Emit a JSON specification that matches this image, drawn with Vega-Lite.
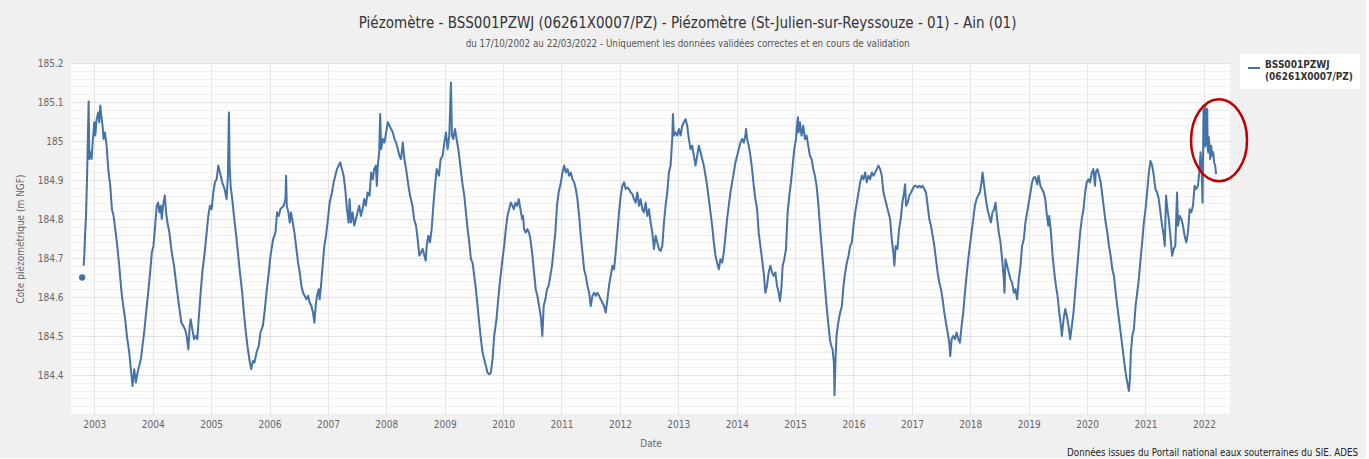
{
  "$schema": "https://vega.github.io/schema/vega-lite/v6.json",
  "background": "#f0f0f0",
  "padding": {"left": 15, "top": 16, "right": 6, "bottom": 0},
  "title": {
    "text": "Piézomètre - BSS001PZWJ (06261X0007/PZ) - Piézomètre (St-Julien-sur-Reyssouze - 01) - Ain (01)",
    "subtitle": "du 17/10/2002 au 22/03/2022 - Uniquement les données validées correctes et en cours de validation",
    "anchor": "middle",
    "frame": "bounds",
    "font": "DejaVu Sans Condensed",
    "fontSize": 15,
    "fontWeight": "normal",
    "color": "#333333",
    "subtitleFont": "DejaVu Sans Condensed",
    "subtitleFontSize": 9.75,
    "subtitleColor": "#555555",
    "subtitlePadding": 8,
    "offset": 5
  },
  "config": {
    "view": {"fill": "#fdfdfd", "stroke": null},
    "axis": {
      "labelFont": "DejaVu Sans Condensed",
      "labelFontSize": 10,
      "labelColor": "#666666",
      "titleFont": "DejaVu Sans Condensed",
      "titleFontSize": 10,
      "titleFontWeight": "normal",
      "titleColor": "#666666",
      "ticks": false,
      "domain": false,
      "labelFlush": false,
      "labelOverlap": false
    }
  },
  "vconcat": [
    {
      "width": 1159,
      "height": 351,
      "title": {
        "text": "Données issues du Portail national eaux souterraines du SIE. ADES",
        "orient": "bottom",
        "anchor": "end",
        "frame": "group",
        "dx": 128,
        "font": "DejaVu Sans Condensed",
        "fontSize": 9.7,
        "fontWeight": "normal",
        "color": "#222222",
        "offset": 0
      },
      "resolve": {"axis": {"y": "independent"}},
      "layer": [
        {
          "data": {"values": [
{"annee":2002.818,"niveau":184.680},{"annee":2002.829,"niveau":184.706},{"annee":2002.841,"niveau":184.757},{"annee":2002.858,"niveau":184.808},{"annee":2002.875,"niveau":184.902},{"annee":2002.886,"niveau":184.979},{"annee":2002.903,"niveau":185.101},{"annee":2002.915,"niveau":184.954},{"annee":2002.932,"niveau":184.971},{"annee":2002.954,"niveau":184.954},{"annee":2002.972,"niveau":184.996},
{"annee":2003.000,"niveau":185.048},{"annee":2003.017,"niveau":185.014},{"annee":2003.040,"niveau":185.056},{"annee":2003.068,"niveau":185.073},{"annee":2003.085,"niveau":185.048},{"annee":2003.102,"niveau":185.091},{"annee":2003.120,"niveau":185.065},{"annee":2003.142,"niveau":185.039},{"annee":2003.159,"niveau":185.005},{"annee":2003.182,"niveau":185.022},{"annee":2003.211,"niveau":184.988},{"annee":2003.239,"niveau":184.928},{"annee":2003.273,"niveau":184.885},{"annee":2003.302,"niveau":184.825},{"annee":2003.330,"niveau":184.808},{"annee":2003.359,"niveau":184.774},{"annee":2003.387,"niveau":184.740},{"annee":2003.427,"niveau":184.680},{"annee":2003.467,"niveau":184.611},{"annee":2003.495,"niveau":184.577},{"annee":2003.529,"niveau":184.543},{"annee":2003.558,"niveau":184.500},{"annee":2003.598,"niveau":184.458},{"annee":2003.626,"niveau":184.415},{"annee":2003.655,"niveau":184.372},{"annee":2003.683,"niveau":184.415},{"annee":2003.712,"niveau":184.381},{"annee":2003.740,"niveau":184.406},{"annee":2003.768,"niveau":184.423},{"annee":2003.797,"niveau":184.440},{"annee":2003.825,"niveau":184.475},{"annee":2003.854,"niveau":184.509},{"annee":2003.882,"niveau":184.552},{"annee":2003.922,"niveau":184.611},{"annee":2003.956,"niveau":184.663},{"annee":2003.985,"niveau":184.714},
{"annee":2004.013,"niveau":184.731},{"annee":2004.042,"niveau":184.783},{"annee":2004.070,"niveau":184.834},{"annee":2004.093,"niveau":184.842},{"annee":2004.116,"niveau":184.817},{"annee":2004.138,"niveau":184.834},{"annee":2004.155,"niveau":184.800},{"annee":2004.178,"niveau":184.834},{"annee":2004.207,"niveau":184.860},{"annee":2004.229,"niveau":184.817},{"annee":2004.252,"niveau":184.791},{"annee":2004.286,"niveau":184.765},{"annee":2004.326,"niveau":184.714},{"annee":2004.366,"niveau":184.680},{"annee":2004.406,"niveau":184.629},{"annee":2004.451,"niveau":184.577},{"annee":2004.491,"niveau":184.534},{"annee":2004.525,"niveau":184.526},{"annee":2004.554,"niveau":184.517},{"annee":2004.582,"niveau":184.500},{"annee":2004.611,"niveau":184.466},{"annee":2004.634,"niveau":184.526},{"annee":2004.651,"niveau":184.543},{"annee":2004.679,"niveau":184.517},{"annee":2004.708,"niveau":184.492},{"annee":2004.736,"niveau":184.500},{"annee":2004.764,"niveau":184.492},{"annee":2004.787,"niveau":184.543},{"annee":2004.821,"niveau":184.611},{"annee":2004.850,"niveau":184.663},{"annee":2004.890,"niveau":184.714},{"annee":2004.924,"niveau":184.765},{"annee":2004.952,"niveau":184.808},{"annee":2004.981,"niveau":184.834},
{"annee":2005.009,"niveau":184.825},{"annee":2005.038,"niveau":184.868},{"annee":2005.066,"niveau":184.894},{"annee":2005.095,"niveau":184.902},{"annee":2005.123,"niveau":184.937},{"annee":2005.151,"niveau":184.919},{"annee":2005.191,"niveau":184.894},{"annee":2005.231,"niveau":184.877},{"annee":2005.265,"niveau":184.851},{"annee":2005.288,"niveau":184.911},{"annee":2005.305,"niveau":185.073},{"annee":2005.317,"niveau":184.937},{"annee":2005.334,"niveau":184.885},{"annee":2005.362,"niveau":184.851},{"annee":2005.391,"niveau":184.808},{"annee":2005.430,"niveau":184.757},{"annee":2005.465,"niveau":184.706},{"annee":2005.493,"niveau":184.663},{"annee":2005.533,"niveau":184.611},{"annee":2005.561,"niveau":184.560},{"annee":2005.595,"niveau":184.509},{"annee":2005.630,"niveau":184.466},{"annee":2005.664,"niveau":184.432},{"annee":2005.687,"niveau":184.415},{"annee":2005.715,"niveau":184.436},{"annee":2005.743,"niveau":184.432},{"annee":2005.778,"niveau":184.458},{"annee":2005.817,"niveau":184.475},{"annee":2005.846,"niveau":184.509},{"annee":2005.886,"niveau":184.526},{"annee":2005.914,"niveau":184.560},{"annee":2005.948,"niveau":184.611},{"annee":2005.988,"niveau":184.663},
{"annee":2006.017,"niveau":184.706},{"annee":2006.062,"niveau":184.748},{"annee":2006.102,"niveau":184.765},{"annee":2006.130,"niveau":184.817},{"annee":2006.159,"niveau":184.808},{"annee":2006.187,"niveau":184.825},{"annee":2006.216,"niveau":184.830},{"annee":2006.244,"niveau":184.834},{"annee":2006.273,"niveau":184.851},{"annee":2006.284,"niveau":184.911},{"annee":2006.296,"niveau":184.834},{"annee":2006.324,"niveau":184.817},{"annee":2006.347,"niveau":184.791},{"annee":2006.369,"niveau":184.817},{"annee":2006.398,"niveau":184.791},{"annee":2006.427,"niveau":184.765},{"annee":2006.461,"niveau":184.723},{"annee":2006.489,"niveau":184.688},{"annee":2006.518,"niveau":184.663},{"annee":2006.546,"niveau":184.629},{"annee":2006.574,"niveau":184.611},{"annee":2006.603,"niveau":184.603},{"annee":2006.631,"niveau":184.594},{"annee":2006.660,"niveau":184.603},{"annee":2006.688,"niveau":184.586},{"annee":2006.717,"niveau":184.577},{"annee":2006.745,"niveau":184.560},{"annee":2006.768,"niveau":184.534},{"annee":2006.791,"niveau":184.577},{"annee":2006.813,"niveau":184.603},{"annee":2006.842,"niveau":184.620},{"annee":2006.859,"niveau":184.594},{"annee":2006.882,"niveau":184.629},{"annee":2006.910,"niveau":184.680},{"annee":2006.939,"niveau":184.731},{"annee":2006.967,"niveau":184.757},
{"annee":2007.001,"niveau":184.800},{"annee":2007.030,"niveau":184.842},{"annee":2007.070,"niveau":184.868},{"annee":2007.098,"niveau":184.894},{"annee":2007.127,"niveau":184.911},{"annee":2007.155,"niveau":184.928},{"annee":2007.184,"niveau":184.937},{"annee":2007.212,"niveau":184.945},{"annee":2007.240,"niveau":184.928},{"annee":2007.269,"niveau":184.911},{"annee":2007.297,"niveau":184.877},{"annee":2007.326,"niveau":184.825},{"annee":2007.354,"niveau":184.791},{"annee":2007.371,"niveau":184.851},{"annee":2007.394,"niveau":184.791},{"annee":2007.422,"niveau":184.817},{"annee":2007.451,"niveau":184.783},{"annee":2007.479,"niveau":184.800},{"annee":2007.508,"niveau":184.817},{"annee":2007.536,"niveau":184.834},{"annee":2007.565,"niveau":184.808},{"annee":2007.593,"niveau":184.825},{"annee":2007.622,"niveau":184.851},{"annee":2007.650,"niveau":184.834},{"annee":2007.679,"niveau":184.868},{"annee":2007.713,"niveau":184.860},{"annee":2007.741,"niveau":184.919},{"annee":2007.770,"niveau":184.902},{"annee":2007.792,"niveau":184.928},{"annee":2007.821,"niveau":184.937},{"annee":2007.838,"niveau":184.885},{"annee":2007.855,"niveau":184.937},{"annee":2007.878,"niveau":184.971},{"annee":2007.895,"niveau":185.069},{"annee":2007.912,"niveau":184.979},{"annee":2007.941,"niveau":185.005},{"annee":2007.969,"niveau":184.996},{"annee":2007.997,"niveau":185.022},
{"annee":2008.026,"niveau":185.048},{"annee":2008.054,"niveau":185.039},{"annee":2008.083,"niveau":185.031},{"annee":2008.111,"niveau":185.022},{"annee":2008.140,"niveau":185.005},{"annee":2008.168,"niveau":184.996},{"annee":2008.197,"niveau":184.979},{"annee":2008.225,"niveau":184.962},{"annee":2008.253,"niveau":184.954},{"annee":2008.282,"niveau":184.996},{"annee":2008.310,"niveau":184.954},{"annee":2008.339,"niveau":184.928},{"annee":2008.379,"niveau":184.885},{"annee":2008.407,"niveau":184.860},{"annee":2008.447,"niveau":184.834},{"annee":2008.475,"niveau":184.800},{"annee":2008.509,"niveau":184.783},{"annee":2008.538,"niveau":184.748},{"annee":2008.566,"niveau":184.706},{"annee":2008.595,"niveau":184.714},{"annee":2008.623,"niveau":184.723},{"annee":2008.652,"niveau":184.706},{"annee":2008.675,"niveau":184.693},{"annee":2008.692,"niveau":184.731},{"annee":2008.720,"niveau":184.757},{"annee":2008.748,"niveau":184.740},{"annee":2008.777,"niveau":184.774},{"annee":2008.805,"niveau":184.834},{"annee":2008.834,"niveau":184.885},{"annee":2008.862,"niveau":184.928},{"annee":2008.902,"niveau":184.911},{"annee":2008.931,"niveau":184.954},{"annee":2008.965,"niveau":184.962},{"annee":2008.993,"niveau":184.996},
{"annee":2009.022,"niveau":185.022},{"annee":2009.050,"niveau":184.979},{"annee":2009.079,"niveau":185.014},{"annee":2009.107,"niveau":185.150},{"annee":2009.124,"niveau":185.014},{"annee":2009.147,"niveau":185.005},{"annee":2009.176,"niveau":185.031},{"annee":2009.204,"niveau":185.005},{"annee":2009.233,"niveau":184.979},{"annee":2009.261,"niveau":184.945},{"annee":2009.301,"niveau":184.894},{"annee":2009.335,"niveau":184.860},{"annee":2009.364,"niveau":184.817},{"annee":2009.392,"niveau":184.774},{"annee":2009.421,"niveau":184.740},{"annee":2009.449,"niveau":184.697},{"annee":2009.477,"niveau":184.688},{"annee":2009.506,"niveau":184.654},{"annee":2009.534,"niveau":184.620},{"annee":2009.563,"niveau":184.577},{"annee":2009.591,"niveau":184.534},{"annee":2009.620,"niveau":184.492},{"annee":2009.648,"niveau":184.458},{"annee":2009.677,"niveau":184.440},{"annee":2009.705,"niveau":184.423},{"annee":2009.734,"niveau":184.406},{"annee":2009.762,"niveau":184.402},{"annee":2009.790,"niveau":184.406},{"annee":2009.819,"niveau":184.440},{"annee":2009.847,"niveau":184.500},{"annee":2009.887,"niveau":184.543},{"annee":2009.916,"niveau":184.594},{"annee":2009.944,"niveau":184.637},{"annee":2009.990,"niveau":184.697},
{"annee":2010.018,"niveau":184.731},{"annee":2010.047,"niveau":184.774},{"annee":2010.075,"niveau":184.808},{"annee":2010.103,"niveau":184.825},{"annee":2010.132,"niveau":184.842},{"annee":2010.160,"niveau":184.834},{"annee":2010.183,"niveau":184.825},{"annee":2010.212,"niveau":184.842},{"annee":2010.240,"niveau":184.834},{"annee":2010.269,"niveau":184.851},{"annee":2010.297,"niveau":184.825},{"annee":2010.325,"niveau":184.800},{"annee":2010.342,"niveau":184.808},{"annee":2010.359,"niveau":184.774},{"annee":2010.388,"niveau":184.765},{"annee":2010.416,"niveau":184.774},{"annee":2010.445,"niveau":184.765},{"annee":2010.468,"niveau":184.748},{"annee":2010.502,"niveau":184.706},{"annee":2010.530,"niveau":184.663},{"annee":2010.559,"niveau":184.620},{"annee":2010.587,"niveau":184.603},{"annee":2010.616,"niveau":184.577},{"annee":2010.644,"niveau":184.552},{"annee":2010.672,"niveau":184.500},{"annee":2010.695,"niveau":184.577},{"annee":2010.724,"niveau":184.594},{"annee":2010.752,"niveau":184.620},{"annee":2010.781,"niveau":184.629},{"annee":2010.809,"niveau":184.654},{"annee":2010.837,"niveau":184.680},{"annee":2010.866,"niveau":184.723},{"annee":2010.894,"niveau":184.765},{"annee":2010.923,"niveau":184.834},{"annee":2010.951,"niveau":184.868},{"annee":2010.989,"niveau":184.894},
{"annee":2011.017,"niveau":184.919},{"annee":2011.046,"niveau":184.937},{"annee":2011.074,"niveau":184.919},{"annee":2011.103,"niveau":184.928},{"annee":2011.131,"niveau":184.911},{"annee":2011.159,"niveau":184.919},{"annee":2011.188,"niveau":184.902},{"annee":2011.216,"niveau":184.894},{"annee":2011.245,"niveau":184.877},{"annee":2011.273,"niveau":184.851},{"annee":2011.302,"niveau":184.808},{"annee":2011.330,"niveau":184.757},{"annee":2011.359,"niveau":184.714},{"annee":2011.387,"niveau":184.671},{"annee":2011.416,"niveau":184.654},{"annee":2011.444,"niveau":184.629},{"annee":2011.473,"niveau":184.611},{"annee":2011.501,"niveau":184.577},{"annee":2011.530,"niveau":184.603},{"annee":2011.558,"niveau":184.611},{"annee":2011.587,"niveau":184.603},{"annee":2011.615,"niveau":184.611},{"annee":2011.644,"niveau":184.603},{"annee":2011.672,"niveau":184.594},{"annee":2011.700,"niveau":184.586},{"annee":2011.729,"niveau":184.577},{"annee":2011.757,"niveau":184.560},{"annee":2011.786,"niveau":184.594},{"annee":2011.814,"niveau":184.629},{"annee":2011.843,"niveau":184.654},{"annee":2011.871,"niveau":184.680},{"annee":2011.900,"niveau":184.671},{"annee":2011.928,"niveau":184.714},{"annee":2011.957,"niveau":184.765},{"annee":2011.985,"niveau":184.817},
{"annee":2012.014,"niveau":184.860},{"annee":2012.042,"niveau":184.885},{"annee":2012.071,"niveau":184.894},{"annee":2012.099,"niveau":184.877},{"annee":2012.128,"niveau":184.881},{"annee":2012.156,"niveau":184.877},{"annee":2012.185,"niveau":184.868},{"annee":2012.213,"niveau":184.864},{"annee":2012.241,"niveau":184.851},{"annee":2012.270,"niveau":184.842},{"annee":2012.298,"niveau":184.868},{"annee":2012.327,"niveau":184.834},{"annee":2012.355,"niveau":184.851},{"annee":2012.384,"niveau":184.825},{"annee":2012.412,"niveau":184.817},{"annee":2012.441,"niveau":184.842},{"annee":2012.469,"niveau":184.808},{"annee":2012.498,"niveau":184.825},{"annee":2012.526,"niveau":184.791},{"annee":2012.555,"niveau":184.765},{"annee":2012.583,"niveau":184.723},{"annee":2012.612,"niveau":184.757},{"annee":2012.640,"niveau":184.740},{"annee":2012.669,"niveau":184.723},{"annee":2012.697,"niveau":184.718},{"annee":2012.726,"niveau":184.731},{"annee":2012.754,"niveau":184.791},{"annee":2012.782,"niveau":184.834},{"annee":2012.811,"niveau":184.868},{"annee":2012.839,"niveau":184.919},{"annee":2012.868,"niveau":184.937},{"annee":2012.896,"niveau":185.005},{"annee":2012.908,"niveau":185.069},{"annee":2012.925,"niveau":185.014},{"annee":2012.953,"niveau":185.022},{"annee":2012.982,"niveau":185.014},
{"annee":2013.010,"niveau":185.031},{"annee":2013.039,"niveau":185.014},{"annee":2013.067,"niveau":185.039},{"annee":2013.096,"niveau":185.048},{"annee":2013.124,"niveau":185.056},{"annee":2013.153,"niveau":185.039},{"annee":2013.181,"niveau":185.005},{"annee":2013.210,"niveau":184.979},{"annee":2013.238,"niveau":184.988},{"annee":2013.267,"niveau":184.962},{"annee":2013.295,"niveau":184.937},{"annee":2013.323,"niveau":184.962},{"annee":2013.352,"niveau":184.988},{"annee":2013.380,"niveau":184.971},{"annee":2013.409,"niveau":184.954},{"annee":2013.437,"niveau":184.937},{"annee":2013.466,"niveau":184.911},{"annee":2013.494,"niveau":184.885},{"annee":2013.523,"niveau":184.851},{"annee":2013.551,"niveau":184.817},{"annee":2013.580,"niveau":184.783},{"annee":2013.608,"niveau":184.740},{"annee":2013.637,"niveau":184.706},{"annee":2013.665,"niveau":184.688},{"annee":2013.694,"niveau":184.671},{"annee":2013.722,"niveau":184.697},{"annee":2013.751,"niveau":184.688},{"annee":2013.779,"niveau":184.714},{"annee":2013.808,"niveau":184.757},{"annee":2013.836,"niveau":184.800},{"annee":2013.864,"niveau":184.834},{"annee":2013.893,"niveau":184.868},{"annee":2013.921,"niveau":184.894},{"annee":2013.950,"niveau":184.919},{"annee":2013.978,"niveau":184.945},
{"annee":2014.007,"niveau":184.962},{"annee":2014.035,"niveau":184.979},{"annee":2014.064,"niveau":184.996},{"annee":2014.092,"niveau":185.005},{"annee":2014.121,"niveau":184.996},{"annee":2014.149,"niveau":185.014},{"annee":2014.160,"niveau":185.031},{"annee":2014.178,"niveau":185.005},{"annee":2014.206,"niveau":184.988},{"annee":2014.235,"niveau":184.962},{"annee":2014.263,"niveau":184.928},{"annee":2014.292,"niveau":184.885},{"annee":2014.320,"niveau":184.851},{"annee":2014.349,"niveau":184.825},{"annee":2014.377,"niveau":184.765},{"annee":2014.405,"niveau":184.731},{"annee":2014.434,"niveau":184.697},{"annee":2014.462,"niveau":184.663},{"annee":2014.491,"niveau":184.611},{"annee":2014.519,"niveau":184.629},{"annee":2014.548,"niveau":184.663},{"annee":2014.576,"niveau":184.680},{"annee":2014.605,"niveau":184.663},{"annee":2014.633,"niveau":184.654},{"annee":2014.662,"niveau":184.663},{"annee":2014.690,"niveau":184.629},{"annee":2014.719,"niveau":184.611},{"annee":2014.741,"niveau":184.590},{"annee":2014.764,"niveau":184.620},{"annee":2014.787,"niveau":184.680},{"annee":2014.815,"niveau":184.697},{"annee":2014.844,"niveau":184.723},{"annee":2014.872,"niveau":184.817},{"annee":2014.901,"niveau":184.860},{"annee":2014.929,"niveau":184.894},{"annee":2014.958,"niveau":184.937},{"annee":2014.986,"niveau":184.979},
{"annee":2015.015,"niveau":185.005},{"annee":2015.032,"niveau":185.039},{"annee":2015.049,"niveau":185.061},{"annee":2015.060,"niveau":185.022},{"annee":2015.083,"niveau":185.048},{"annee":2015.111,"niveau":185.014},{"annee":2015.140,"niveau":185.039},{"annee":2015.168,"niveau":185.005},{"annee":2015.197,"niveau":185.014},{"annee":2015.225,"niveau":184.988},{"annee":2015.254,"niveau":184.962},{"annee":2015.282,"niveau":184.954},{"annee":2015.311,"niveau":184.928},{"annee":2015.339,"niveau":184.911},{"annee":2015.368,"niveau":184.885},{"annee":2015.396,"niveau":184.842},{"annee":2015.425,"niveau":184.783},{"annee":2015.453,"niveau":184.731},{"annee":2015.482,"niveau":184.680},{"annee":2015.510,"niveau":184.629},{"annee":2015.539,"niveau":184.577},{"annee":2015.567,"niveau":184.534},{"annee":2015.596,"niveau":184.492},{"annee":2015.618,"niveau":184.475},{"annee":2015.641,"niveau":184.466},{"annee":2015.664,"niveau":184.432},{"annee":2015.675,"niveau":184.348},{"annee":2015.692,"niveau":184.440},{"annee":2015.709,"niveau":184.500},{"annee":2015.738,"niveau":184.534},{"annee":2015.772,"niveau":184.560},{"annee":2015.801,"niveau":184.577},{"annee":2015.829,"niveau":184.629},{"annee":2015.858,"niveau":184.663},{"annee":2015.886,"niveau":184.688},{"annee":2015.915,"niveau":184.706},{"annee":2015.943,"niveau":184.731},{"annee":2015.972,"niveau":184.740},
{"annee":2016.000,"niveau":184.783},{"annee":2016.029,"niveau":184.817},{"annee":2016.057,"niveau":184.842},{"annee":2016.086,"niveau":184.868},{"annee":2016.114,"niveau":184.894},{"annee":2016.143,"niveau":184.911},{"annee":2016.171,"niveau":184.902},{"annee":2016.199,"niveau":184.919},{"annee":2016.228,"niveau":184.894},{"annee":2016.256,"niveau":184.911},{"annee":2016.285,"niveau":184.902},{"annee":2016.313,"niveau":184.919},{"annee":2016.342,"niveau":184.911},{"annee":2016.370,"niveau":184.919},{"annee":2016.399,"niveau":184.928},{"annee":2016.427,"niveau":184.937},{"annee":2016.456,"niveau":184.928},{"annee":2016.484,"niveau":184.911},{"annee":2016.513,"niveau":184.868},{"annee":2016.541,"niveau":184.851},{"annee":2016.570,"niveau":184.834},{"annee":2016.598,"niveau":184.817},{"annee":2016.627,"niveau":184.800},{"annee":2016.655,"niveau":184.748},{"annee":2016.683,"niveau":184.714},{"annee":2016.700,"niveau":184.680},{"annee":2016.723,"niveau":184.731},{"annee":2016.752,"niveau":184.723},{"annee":2016.780,"niveau":184.774},{"annee":2016.809,"niveau":184.800},{"annee":2016.837,"niveau":184.842},{"annee":2016.866,"niveau":184.868},{"annee":2016.883,"niveau":184.889},{"annee":2016.900,"niveau":184.834},{"annee":2016.928,"niveau":184.842},{"annee":2016.957,"niveau":184.860},{"annee":2016.985,"niveau":184.868},
{"annee":2017.014,"niveau":184.877},{"annee":2017.042,"niveau":184.885},{"annee":2017.071,"niveau":184.885},{"annee":2017.099,"niveau":184.881},{"annee":2017.128,"niveau":184.885},{"annee":2017.156,"niveau":184.881},{"annee":2017.185,"niveau":184.885},{"annee":2017.213,"niveau":184.877},{"annee":2017.242,"niveau":184.868},{"annee":2017.270,"niveau":184.834},{"annee":2017.298,"niveau":184.800},{"annee":2017.327,"niveau":184.783},{"annee":2017.355,"niveau":184.757},{"annee":2017.384,"niveau":184.731},{"annee":2017.412,"niveau":184.697},{"annee":2017.441,"niveau":184.663},{"annee":2017.469,"niveau":184.637},{"annee":2017.498,"niveau":184.620},{"annee":2017.526,"niveau":184.594},{"annee":2017.555,"niveau":184.560},{"annee":2017.583,"niveau":184.534},{"annee":2017.612,"niveau":184.509},{"annee":2017.640,"niveau":184.483},{"annee":2017.657,"niveau":184.449},{"annee":2017.680,"niveau":184.492},{"annee":2017.708,"niveau":184.500},{"annee":2017.737,"niveau":184.492},{"annee":2017.765,"niveau":184.509},{"annee":2017.794,"niveau":184.492},{"annee":2017.822,"niveau":184.483},{"annee":2017.851,"niveau":184.526},{"annee":2017.879,"niveau":184.560},{"annee":2017.908,"niveau":184.611},{"annee":2017.936,"niveau":184.654},{"annee":2017.965,"niveau":184.697},{"annee":2017.993,"niveau":184.731},
{"annee":2018.022,"niveau":184.765},{"annee":2018.050,"niveau":184.800},{"annee":2018.079,"niveau":184.834},{"annee":2018.107,"niveau":184.851},{"annee":2018.135,"niveau":184.860},{"annee":2018.164,"niveau":184.868},{"annee":2018.192,"niveau":184.894},{"annee":2018.210,"niveau":184.919},{"annee":2018.238,"niveau":184.885},{"annee":2018.266,"niveau":184.851},{"annee":2018.295,"niveau":184.825},{"annee":2018.323,"niveau":184.808},{"annee":2018.352,"niveau":184.791},{"annee":2018.380,"niveau":184.817},{"annee":2018.409,"niveau":184.825},{"annee":2018.431,"niveau":184.842},{"annee":2018.460,"niveau":184.800},{"annee":2018.488,"niveau":184.765},{"annee":2018.517,"niveau":184.740},{"annee":2018.545,"niveau":184.697},{"annee":2018.574,"niveau":184.646},{"annee":2018.585,"niveau":184.611},{"annee":2018.602,"niveau":184.697},{"annee":2018.631,"niveau":184.680},{"annee":2018.659,"niveau":184.663},{"annee":2018.688,"niveau":184.646},{"annee":2018.716,"niveau":184.637},{"annee":2018.745,"niveau":184.611},{"annee":2018.773,"niveau":184.620},{"annee":2018.802,"niveau":184.594},{"annee":2018.830,"niveau":184.646},{"annee":2018.859,"niveau":184.680},{"annee":2018.887,"niveau":184.731},{"annee":2018.916,"niveau":184.748},{"annee":2018.944,"niveau":184.791},{"annee":2018.973,"niveau":184.817},
{"annee":2019.001,"niveau":184.842},{"annee":2019.030,"niveau":184.868},{"annee":2019.058,"niveau":184.894},{"annee":2019.087,"niveau":184.907},{"annee":2019.115,"niveau":184.907},{"annee":2019.144,"niveau":184.889},{"annee":2019.170,"niveau":184.911},{"annee":2019.199,"niveau":184.885},{"annee":2019.227,"niveau":184.877},{"annee":2019.256,"niveau":184.868},{"annee":2019.284,"niveau":184.851},{"annee":2019.313,"niveau":184.808},{"annee":2019.335,"niveau":184.783},{"annee":2019.352,"niveau":184.808},{"annee":2019.381,"niveau":184.765},{"annee":2019.409,"niveau":184.706},{"annee":2019.438,"niveau":184.663},{"annee":2019.466,"niveau":184.629},{"annee":2019.494,"niveau":184.603},{"annee":2019.523,"niveau":184.560},{"annee":2019.551,"niveau":184.526},{"annee":2019.568,"niveau":184.500},{"annee":2019.597,"niveau":184.543},{"annee":2019.625,"niveau":184.569},{"annee":2019.653,"niveau":184.552},{"annee":2019.682,"niveau":184.526},{"annee":2019.710,"niveau":184.492},{"annee":2019.739,"niveau":184.526},{"annee":2019.767,"niveau":184.560},{"annee":2019.795,"niveau":184.611},{"annee":2019.824,"niveau":184.663},{"annee":2019.852,"niveau":184.714},{"annee":2019.881,"niveau":184.765},{"annee":2019.909,"niveau":184.800},{"annee":2019.938,"niveau":184.825},{"annee":2019.966,"niveau":184.868},{"annee":2019.994,"niveau":184.894},
{"annee":2020.023,"niveau":184.902},{"annee":2020.051,"niveau":184.894},{"annee":2020.080,"niveau":184.919},{"annee":2020.108,"niveau":184.928},{"annee":2020.136,"niveau":184.885},{"annee":2020.148,"niveau":184.919},{"annee":2020.176,"niveau":184.928},{"annee":2020.205,"niveau":184.911},{"annee":2020.233,"niveau":184.894},{"annee":2020.261,"niveau":184.860},{"annee":2020.290,"niveau":184.825},{"annee":2020.318,"niveau":184.791},{"annee":2020.347,"niveau":184.765},{"annee":2020.375,"niveau":184.731},{"annee":2020.403,"niveau":184.706},{"annee":2020.432,"niveau":184.671},{"annee":2020.460,"niveau":184.654},{"annee":2020.489,"niveau":184.611},{"annee":2020.517,"niveau":184.577},{"annee":2020.545,"niveau":184.543},{"annee":2020.574,"niveau":184.509},{"annee":2020.602,"niveau":184.475},{"annee":2020.631,"niveau":184.440},{"annee":2020.659,"niveau":184.406},{"annee":2020.688,"niveau":184.381},{"annee":2020.716,"niveau":184.359},{"annee":2020.733,"niveau":184.389},{"annee":2020.750,"niveau":184.458},{"annee":2020.773,"niveau":184.500},{"annee":2020.801,"niveau":184.517},{"annee":2020.830,"niveau":184.577},{"annee":2020.858,"niveau":184.611},{"annee":2020.886,"niveau":184.646},{"annee":2020.915,"niveau":184.697},{"annee":2020.943,"niveau":184.740},{"annee":2020.972,"niveau":184.791},
{"annee":2021.000,"niveau":184.825},{"annee":2021.028,"niveau":184.868},{"annee":2021.057,"niveau":184.919},{"annee":2021.085,"niveau":184.949},{"annee":2021.114,"niveau":184.937},{"annee":2021.142,"niveau":184.911},{"annee":2021.170,"niveau":184.877},{"annee":2021.199,"niveau":184.868},{"annee":2021.227,"niveau":184.851},{"annee":2021.256,"niveau":184.817},{"annee":2021.284,"niveau":184.783},{"annee":2021.313,"niveau":184.757},{"annee":2021.330,"niveau":184.731},{"annee":2021.352,"niveau":184.860},{"annee":2021.375,"niveau":184.825},{"annee":2021.398,"niveau":184.800},{"annee":2021.426,"niveau":184.757},{"annee":2021.455,"niveau":184.706},{"annee":2021.483,"niveau":184.723},{"annee":2021.511,"niveau":184.731},{"annee":2021.540,"niveau":184.868},{"annee":2021.557,"niveau":184.783},{"annee":2021.585,"niveau":184.808},{"annee":2021.614,"niveau":184.800},{"annee":2021.642,"niveau":184.783},{"annee":2021.670,"niveau":184.757},{"annee":2021.699,"niveau":184.740},{"annee":2021.727,"niveau":184.765},{"annee":2021.756,"niveau":184.825},{"annee":2021.784,"niveau":184.817},{"annee":2021.813,"niveau":184.834},{"annee":2021.841,"niveau":184.885},{"annee":2021.869,"niveau":184.877},{"annee":2021.898,"niveau":184.885},{"annee":2021.926,"niveau":184.928},{"annee":2021.943,"niveau":184.971},{"annee":2021.960,"niveau":184.928},{"annee":2021.977,"niveau":184.842},{"annee":2021.994,"niveau":185.082},
{"annee":2022.000,"niveau":184.990},{"annee":2022.005,"niveau":185.070},{"annee":2022.011,"niveau":185.056},{"annee":2022.017,"niveau":184.985},{"annee":2022.023,"niveau":185.091},{"annee":2022.030,"niveau":185.000},{"annee":2022.035,"niveau":185.080},{"annee":2022.040,"niveau":184.996},{"annee":2022.046,"niveau":185.075},{"annee":2022.052,"niveau":184.990},{"annee":2022.057,"niveau":185.082},{"annee":2022.064,"niveau":184.985},{"annee":2022.074,"niveau":184.971},{"annee":2022.082,"niveau":185.010},{"annee":2022.091,"niveau":184.996},{"annee":2022.108,"niveau":184.954},{"annee":2022.125,"niveau":184.988},{"annee":2022.142,"niveau":184.962},{"annee":2022.159,"niveau":184.971},{"annee":2022.176,"niveau":184.945},{"annee":2022.193,"niveau":184.937},{"annee":2022.210,"niveau":184.915}
          ]},
          "mark": {"type": "line", "strokeWidth": 2, "strokeJoin": "round"},
          "encoding": {
            "x": {
              "field": "annee",
              "type": "quantitative",
              "scale": {"domain": [2002.601, 2022.447], "nice": false, "zero": false},
              "axis": {
                "title": "Date",
                "values": [2003,2004,2005,2006,2007,2008,2009,2010,2011,2012,2013,2014,2015,2016,2017,2018,2019,2020,2021,2022],
                "format": "d",
                "grid": true,
                "gridColor": "#e4e4e4",
                "labelOverlap": false,
                "labelPadding": 5,
                "titlePadding": 9
              }
            },
            "y": {
              "field": "niveau",
              "type": "quantitative",
              "scale": {"domain": [184.3, 185.2], "nice": false, "zero": false},
              "axis": {
                "orient": "left",
                "title": "Cote piézométrique (m NGF)",
                "values": [184.4,184.5,184.6,184.7,184.8,184.9,185,185.1,185.2],
                "format": "~g",
                "grid": true,
                "gridColor": "#e2e2e2",
                "labelOverlap": false,
                "labelPadding": 8,
                "titlePadding": 12,
                "zindex": 0
              }
            },
            "color": {
              "datum": "BSS001PZWJ (06261X0007/PZ)",
              "type": "nominal",
              "scale": {"range": ["#4572A7"]},
              "legend": {
                "title": null,
                "orient": "none",
                "legendX": 1169,
                "legendY": -9,
                "fillColor": "#ffffff",
                "padding": 7,
                "symbolType": "stroke",
                "symbolStrokeWidth": 2,
                "symbolSize": 144,
                "labelExpr": "['BSS001PZWJ', '(06261X0007/PZ)']",
                "labelFont": "DejaVu Sans Condensed",
                "labelFontWeight": "bold",
                "labelFontSize": 10,
                "labelColor": "#333333",
                "labelBaseline": "alphabetic",
                "labelLimit": 200,
                "labelOffset": 4
              }
            }
          }
        },
        {
          "data": {"values": [{"annee": 2002.792, "niveau": 184.65}]},
          "mark": {"type": "point", "filled": true, "size": 40, "color": "#4572A7", "opacity": 1},
          "encoding": {
            "x": {"field": "annee", "type": "quantitative"},
            "y": {
              "field": "niveau",
              "type": "quantitative",
              "axis": {
                "orient": "left",
                "title": null,
                "labels": false,
                "ticks": false,
                "domain": false,
                "grid": true,
                "gridColor": "#efefef",
                "values": [184.32,184.34,184.36,184.38,184.42,184.44,184.46,184.48,184.52,184.54,184.56,184.58,184.62,184.64,184.66,184.68,184.72,184.74,184.76,184.78,184.82,184.84,184.86,184.88,184.92,184.94,184.96,184.98,185.02,185.04,185.06,185.08,185.12,185.14,185.16,185.18]
              }
            }
          }
        },
        {
          "data": {"values": [{"annee": 2022.259, "niveau": 185.002}]},
          "mark": {"type": "point", "shape": "M -0.683 0 A 0.683 1 0 1 0 0.683 0 A 0.683 1 0 1 0 -0.683 0 Z", "size": 6724, "filled": false, "color": "#c00000", "strokeWidth": 2.5, "opacity": 1},
          "encoding": {
            "x": {"field": "annee", "type": "quantitative"},
            "y": {"field": "niveau", "type": "quantitative", "axis": null}
          }
        }
      ]
    }
  ]
}
